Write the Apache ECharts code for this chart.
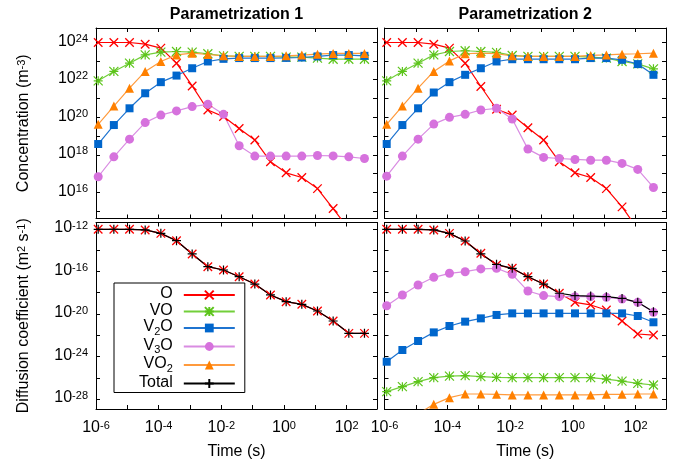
<!DOCTYPE html>
<html>
<head>
<meta charset="utf-8">
<script src="https://cdn.jsdelivr.net/npm/echarts@6/dist/echarts.min.js"></script>
<style>
  html, body { margin: 0; padding: 0; background: #fff; }
  #chart { width: 673px; height: 468px; }
</style>
</head>
<body>
<div id="chart"></div>
<script>
// Sampling times, log10(t / s)
const logTime = [-5.93, -5.43, -4.93, -4.43, -3.93, -3.43, -2.93, -2.43, -1.93,
                 -1.43, -0.93, -0.43, 0.07, 0.57, 1.07, 1.57, 2.07, 2.57];

// Concentrations, log10(c / m^-3) — parametrization 1
const concO_1   = [23.98, 23.98, 23.98, 23.89, 23.68, 22.88, 21.67, 20.39, 20.04, 19.41, 18.79, 17.64, 17.05, 16.80, 16.21, 15.15, 14.05, 13.0];
const concVO_1  = [21.94, 22.44, 22.88, 23.32, 23.47, 23.50, 23.47, 23.38, 23.27, 23.24, 23.24, 23.24, 23.20, 23.20, 23.15, 23.09, 23.09, 23.09];
const concV2O_1 = [18.58, 19.59, 20.48, 21.28, 21.87, 22.22, 22.61, 22.97, 23.11, 23.15, 23.15, 23.15, 23.16, 23.18, 23.24, 23.31, 23.31, 23.27];
const concV3O_1 = [16.84, 17.90, 18.84, 19.72, 20.12, 20.34, 20.57, 20.69, 20.16, 18.49, 17.94, 17.94, 17.94, 17.94, 17.97, 17.95, 17.90, 17.81];
const concVO2_1 = [19.63, 20.60, 21.55, 22.44, 22.97, 23.32, 23.41, 23.34, 23.27, 23.24, 23.24, 23.24, 23.27, 23.31, 23.36, 23.40, 23.40, 23.40];

// Concentrations, log10(c / m^-3) — parametrization 2
const concO_2   = [23.98, 23.98, 23.98, 23.89, 23.68, 22.88, 21.64, 20.43, 20.12, 19.45, 18.79, 17.64, 17.05, 16.80, 16.21, 15.24, 14.05, 13.1];
const concVO_2  = [21.94, 22.44, 22.88, 23.32, 23.50, 23.54, 23.50, 23.45, 23.29, 23.24, 23.24, 23.24, 23.24, 23.20, 23.15, 22.97, 22.84, 22.58];
const concV2O_2 = [18.58, 19.59, 20.48, 21.32, 21.87, 22.26, 22.61, 22.97, 23.09, 23.09, 23.09, 23.09, 23.09, 23.15, 23.15, 23.06, 22.83, 22.26];
const concV3O_2 = [16.87, 17.94, 18.84, 19.64, 20.00, 20.16, 20.39, 20.48, 19.91, 18.31, 17.87, 17.81, 17.76, 17.72, 17.72, 17.55, 17.23, 16.27];
const concVO2_2 = [19.63, 20.60, 21.55, 22.44, 23.00, 23.38, 23.41, 23.38, 23.27, 23.24, 23.24, 23.24, 23.24, 23.29, 23.32, 23.36, 23.38, 23.41];

// Diffusion coefficients, log10(D / m^2 s^-1) — parametrization 1
const diffO_1     = [-12.03, -12.03, -12.03, -12.09, -12.41, -13.10, -14.35, -15.55, -15.86, -16.49, -17.18, -18.21, -18.84, -19.09, -19.72, -20.66, -21.82, -21.82];
const diffTotal_1 = [-12.03, -12.03, -12.03, -12.09, -12.41, -13.10, -14.35, -15.55, -15.86, -16.49, -17.18, -18.21, -18.84, -19.09, -19.72, -20.66, -21.82, -21.82];

// Diffusion coefficients, log10(D / m^2 s^-1) — parametrization 2
const diffO_2     = [-12.03, -12.03, -12.03, -12.09, -12.41, -13.13, -14.29, -15.39, -15.70, -16.49, -17.18, -18.05, -18.90, -19.15, -19.62, -20.66, -21.88, -21.98];
const diffVO_2    = [-27.31, -26.84, -26.37, -25.99, -25.84, -25.80, -25.90, -25.96, -25.99, -25.99, -25.99, -25.99, -25.99, -25.99, -26.12, -26.31, -26.53, -26.68];
const diffV2O_2   = [-24.49, -23.39, -22.54, -21.73, -21.13, -20.72, -20.41, -20.09, -19.94, -19.94, -19.94, -19.94, -19.94, -19.94, -19.94, -19.94, -20.19, -20.78];
const diffV3O_2   = [-19.22, -18.21, -17.27, -16.55, -16.17, -16.02, -15.76, -15.70, -16.27, -17.84, -18.27, -18.37, -18.37, -18.37, -18.43, -18.59, -18.90, -19.84];
const diffVO2_2   = [-31.5, -30.4, -29.4, -28.5, -27.87, -27.53, -27.53, -27.56, -27.62, -27.62, -27.62, -27.62, -27.62, -27.62, -27.56, -27.56, -27.53, -27.53];
const diffTotal_2 = [-12.03, -12.03, -12.03, -12.09, -12.41, -13.13, -14.35, -15.33, -15.70, -16.49, -17.18, -18.05, -18.27, -18.31, -18.37, -18.53, -18.90, -19.78];

const panelTitles = ['Parametrization 1', 'Parametrization 2'];
const speciesNames = ['O', 'VO', 'V2O', 'V3O', 'VO2', 'Total'];

const FONT = '"Liberation Sans", Arial, Helvetica, sans-serif';

// Marker shapes (stroked paths for the line-style points)
const CROSS = 'path://M0,0L10,10M0,10L10,0';
const STAR = 'path://M0,0L10,10M0,10L10,0M5,0L5,10M0,5L10,5';
const PLUS = 'path://M5,0L5,10M0,5L10,5';

const styles = {
  'O':     { symbol: CROSS, size: 8.5, line: '#ff0000', item: { color: '#ff0000', borderColor: '#ff0000', borderWidth: 1.3 } },
  'VO':    { symbol: STAR, size: 9, line: '#72cf3a', item: { color: '#5cc41a', borderColor: '#5cc41a', borderWidth: 1.2 } },
  'V2O':   { symbol: 'rect', size: 8, line: '#1f74d0', item: { color: '#0066cc' } },
  'V3O':   { symbol: 'circle', size: 9, line: '#d98ce2', item: { color: '#d672dd' } },
  'VO2':   { symbol: 'triangle', size: 9, line: '#ff9a3c', item: { color: '#ff8000' } },
  'Total': { symbol: PLUS, size: 9, line: '#000000', item: { color: '#000000', borderColor: '#000000', borderWidth: 1.2 } }
};

const grids = [
  { left: 96, top: 28, width: 281, height: 190.5 },
  { left: 384.5, top: 28, width: 281.5, height: 190.5 },
  { left: 96, top: 222.5, width: 281, height: 186.5 },
  { left: 384.5, top: 222.5, width: 281.5, height: 186.5 }
];

const powRich = {
  b: { fontSize: 16, fontFamily: FONT, color: '#000', lineHeight: 16, padding: [6, 0, 0, 0], verticalAlign: 'bottom' },
  p: { fontSize: 11, fontFamily: FONT, color: '#000', lineHeight: 11, verticalAlign: 'top' }
};

function isMultiple(v, step) {
  const r = Math.round(v);
  return Math.abs(v - r) < 1e-6 && r % step === 0;
}
function powLabel(step) {
  return function (v) {
    return isMultiple(v, step) ? '{b|10}{p|' + Math.round(v) + '}' : '';
  };
}

const lineBlack = { show: true, onZero: false, lineStyle: { color: '#000', width: 1 } };
const tickIn = { show: true, inside: true, length: 4, lineStyle: { color: '#000', width: 1 } };

const xAxes = [];
const yAxes = [];
for (let g = 0; g < 4; g++) {
  const bottomRow = g >= 2;
  const leftCol = g % 2 === 0;
  // bottom and top x axes
  [['bottom', bottomRow], ['top', false]].forEach(function (pair) {
    xAxes.push({
      type: 'value', gridIndex: g, position: pair[0],
      min: -6, max: 2.97, minInterval: 1, maxInterval: 1, splitNumber: 9,
      axisLine: lineBlack, axisTick: tickIn, splitLine: { show: false },
      axisLabel: { show: pair[1], interval: 0, margin: 11, formatter: powLabel(2), rich: powRich },
      name: pair[1] ? 'Time (s)' : '', nameLocation: 'middle', nameGap: 35,
      nameTextStyle: { fontSize: 16, fontFamily: FONT, color: '#000' }
    });
  });
  const yMin = bottomRow ? -28.94 : 14.62;
  const yMax = bottomRow ? -11.39 : 24.75;
  const yStep = bottomRow ? 2 : 1;
  const yLabelStep = bottomRow ? 4 : 2;
  const yName = bottomRow
    ? '{b|Diffusion coefficient (m}{p|2}{b| s}{p|-1}{b|)}'
    : '{b|Concentration (m}{p|-3}{b|)}';
  [['left', leftCol], ['right', false]].forEach(function (pair) {
    yAxes.push({
      type: 'value', gridIndex: g, position: pair[0],
      min: yMin, max: yMax, minInterval: yStep, maxInterval: yStep, splitNumber: bottomRow ? 9 : 10,
      axisLine: lineBlack, axisTick: tickIn, splitLine: { show: false },
      axisLabel: { show: pair[1], interval: 0, margin: 8, formatter: powLabel(yLabelStep), rich: powRich, padding: [0, 0, 2, 0] },
      name: pair[1] ? yName : '', nameLocation: 'middle', nameGap: 64, nameRotate: 90,
      nameTextStyle: { fontSize: 16, fontFamily: FONT, color: '#000', rich: powRich }
    });
  });
}

function series(name, g, vals) {
  const st = styles[name];
  return {
    type: 'line', name: name, xAxisIndex: 2 * g, yAxisIndex: 2 * g,
    data: logTime.map(function (t, i) { return [t, vals[i]]; }),
    symbol: st.symbol, symbolSize: st.size, showSymbol: true, showAllSymbol: true, clip: true,
    lineStyle: { color: st.line, width: 1.2 }, itemStyle: st.item,
    emphasis: { disabled: true }, silent: true
  };
}

const seriesList = [
  series('O', 0, concO_1), series('VO', 0, concVO_1), series('V2O', 0, concV2O_1), series('V3O', 0, concV3O_1), series('VO2', 0, concVO2_1),
  series('O', 1, concO_2), series('VO', 1, concVO_2), series('V2O', 1, concV2O_2), series('V3O', 1, concV3O_2), series('VO2', 1, concVO2_2),
  series('O', 2, diffO_1), series('Total', 2, diffTotal_1),
  series('O', 3, diffO_2), series('VO', 3, diffVO_2), series('V2O', 3, diffV2O_2), series('V3O', 3, diffV3O_2), series('VO2', 3, diffVO2_2), series('Total', 3, diffTotal_2)
];

const legendText = {
  'O': '{b|O}', 'VO': '{b|VO}', 'V2O': '{b|V}{s|2}{b|O}', 'V3O': '{b|V}{s|3}{b|O}', 'VO2': '{b|VO}{s|2}', 'Total': '{b|Total}'
};

const chart = echarts.init(document.getElementById('chart'), null, { renderer: 'canvas' });
chart.setOption({
  animation: false,
  backgroundColor: '#fff',
  graphic: panelTitles.map(function (t, i) {
    const gr = grids[i];
    return {
      type: 'text', x: gr.left + gr.width / 2, y: 15, silent: true,
      style: { text: t, align: 'center', verticalAlign: 'middle', font: 'bold 16px ' + FONT, fill: '#000' }
    };
  }),
  grid: grids.map(function (g) { return Object.assign({ containLabel: false }, g); }),
  xAxis: xAxes,
  yAxis: yAxes,
  legend: {
    data: speciesNames, orient: 'vertical', left: 114, top: 283, align: 'right',
    itemWidth: 51, itemHeight: 11, itemGap: 0.5,
    padding: [3, 9, 2, 25], backgroundColor: '#fff', borderColor: '#000', borderWidth: 1, borderRadius: 0,
    selectedMode: false,
    formatter: function (name) { return legendText[name]; },
    textStyle: {
      fontSize: 16, fontFamily: FONT, color: '#000', padding: [0, 6, 0, 0],
      rich: {
        b: { fontSize: 16, fontFamily: FONT, color: '#000', lineHeight: 18, verticalAlign: 'top' },
        s: { fontSize: 11, fontFamily: FONT, color: '#000', lineHeight: 10, verticalAlign: 'bottom' }
      }
    }
  },
  series: seriesList
});
</script>
</body>
</html>
